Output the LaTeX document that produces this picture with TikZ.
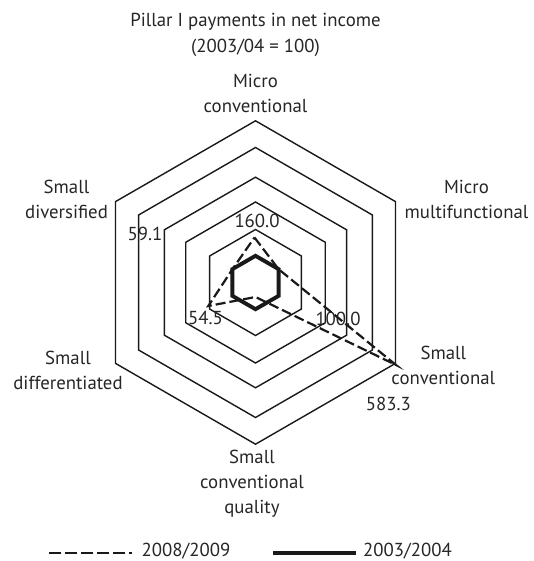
\documentclass[tikz,border=0pt]{standalone}
\usepackage{fontspec}
\setmainfont{PT Sans}
\begin{document}
\begin{tikzpicture}[x=1pt,y=-1pt,
  gridline/.style={line width=1.4pt, line join=miter, black!90},
  oldline/.style={line width=3.9pt, line join=miter, black!90},
  newline/.style={line width=2.2pt, dash pattern=on 10pt off 4pt, line join=miter, black!90},
  lbl/.style={font=\fontsize{18.8}{25}\selectfont, align=center, inner sep=0pt, text=black!85},
  val/.style={font=\fontsize{18.8}{25}\selectfont, inner sep=0pt, text=black!85}]
\useasboundingbox (0,0) rectangle (533,561);
\coordinate (C) at (255.5,282.5);
\begin{scope}[shift={(C)}]
\foreach \r in {53,80.5,105.3,135,161.7}{
  \draw[gridline] (30:\r) -- (90:\r) -- (150:\r) -- (210:\r) -- (270:\r) -- (330:\r) -- cycle;
}
\draw[oldline] (30:26.7) -- (90:26.7) -- (150:26.7) -- (210:26.7) -- (270:26.7) -- (330:26.7) -- cycle;
\end{scope}
% 2008/2009 polygon
\coordinate (pMC) at (254.5,237.5);
\coordinate (pMM) at (278.6,269.2);
\coordinate (pSC) at (396,365);
\coordinate (pSCQ) at (255.5,297);
\coordinate (pSDf) at (208.3,306);
\coordinate (pSDv) at (232.4,269.2);
\draw[newline] (pMC) -- (pMM) -- (pSC) -- (pSCQ) -- (pSDf) -- (pSDv) -- cycle;
% axis labels
\node[lbl] (title) at (255.5,35) {Pillar I payments in net income\\[1.5pt](2003/04 = 100)};
\node[lbl] (lMC) at (255.5,93.3) {Micro\\conventional};
\node[lbl] (lMM) at (466.5,199.7) {Micro\\multifunctional};
\node[lbl] (lSC) at (443.3,365.8) {Small\\conventional};
\node[lbl] (lSCQ) at (252,483.3) {Small\\conventional\\quality};
\node[lbl] (lSDf) at (68,370.8) {Small\\differentiated};
\node[lbl] (lSDv) at (66.5,199.2) {Small\\diversified};
% values
\node[val] (v160) at (257,220.5) {160.0};
\node[val] (v100) at (338,318.5) {100.0};
\node[val] (v583) at (388.3,403.5) {583.3};
\node[val] (v545) at (205.5,317.5) {54.5};
\node[val] (v591) at (145,233.5) {59.1};
% legend
\coordinate (n1) at (49.3,553);
\coordinate (n2) at (132,553);
\draw[line width=2.2pt, dash pattern=on 11.5pt off 4.5pt, black!90] (n1) -- (n2);
\node[val] (ln) at (186,551.5) {2008/2009};
\coordinate (o1) at (273,553);
\coordinate (o2) at (356,553);
\draw[line width=3.6pt, black!90] (o1) -- (o2);
\node[val] (lo) at (407.5,551.5) {2003/2004};
\end{tikzpicture}
\end{document}
